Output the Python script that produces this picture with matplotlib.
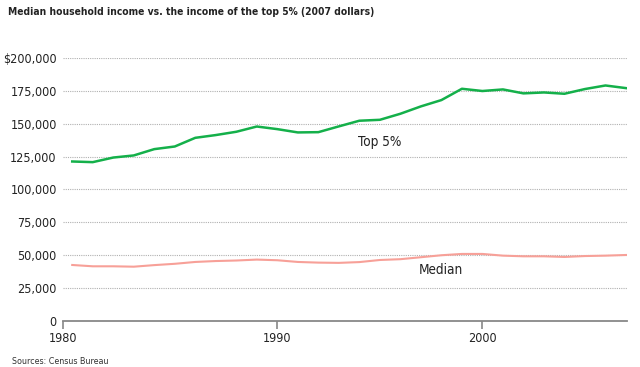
import os
import matplotlib
matplotlib.use("Agg")
import matplotlib.pyplot as plt
from matplotlib import font_manager as fm
from matplotlib.textpath import TextPath
from matplotlib.ticker import FuncFormatter

# ── Data (2007 dollars) ─────────────────────────────────────────────────────
years = list(range(1980, 2008))
top5 = [121300, 120800, 124300, 125900, 130700, 132700, 139300, 141400,
        143900, 147900, 145900, 143400, 143600, 148000, 152300, 153000,
        157600, 163200, 168000, 176600, 174900, 176100, 173100, 173800,
        172800, 176400, 179100, 177100]
median = [42600, 41600, 41600, 41300, 42500, 43500, 44900, 45600,
          46000, 46700, 46200, 44900, 44400, 44200, 44800, 46400,
          47000, 48500, 50000, 51000, 51000, 49700, 49200, 49200,
          48700, 49400, 49700, 50200]
y_ticks = [0, 25000, 50000, 75000, 100000, 125000, 150000, 175000, 200000]
x_labels = ["1980", "1990", "2000"]

# ── Fonts: prefer a condensed face, fall back to Liberation Sans ─────────────
def find_font(files, fallback_family, weight="normal"):
    for name in files:
        for f in fm.fontManager.ttflist:
            if os.path.basename(f.fname) == name:
                return fm.FontProperties(fname=f.fname)
    return fm.FontProperties(family=fallback_family, weight=weight)

FP_REG = find_font(["LiberationSansNarrow-Regular.ttf", "DejaVuSansCondensed.ttf",
                    "NotoSans-Condensed.ttf"], "Liberation Sans")
FP_BOLD = find_font(["LiberationSansNarrow-Bold.ttf", "DejaVuSansCondensed-Bold.ttf",
                     "NotoSans-CondensedBold.ttf"], "Liberation Sans", "bold")


def fit(text, fp, px):
    """font size (pt) that makes `text` about `px` pixels wide at 100 dpi"""
    w = TextPath((0, 0), text, size=10, prop=fp).get_extents().width
    return 10 * px / (w * 100 / 72)


def prop(fp, size):
    p = fp.copy()
    p.set_size(size)
    return p


C_TOP = "#14b04a"
C_MED = "#f7a098"
C_TXT = "#222222"

S_TICK = fit("$200,000", FP_REG, 52)
S_TITLE = fit("Median household income vs. the income of the top 5% (2007 dollars)", FP_BOLD, 365)
S_LAB = fit("Median", FP_REG, 42)
S_SRC = fit("Sources: Census Bureau", FP_REG, 96)

fig = plt.figure(figsize=(6.4, 3.67), dpi=100, facecolor="white")
ax = fig.add_axes([63 / 640, 46 / 367, 564 / 640, 263 / 367])

ax.plot(years, top5, color=C_TOP, lw=1.8, solid_joinstyle="round", zorder=3)
ax.plot(years, median, color=C_MED, lw=1.5, solid_joinstyle="round", zorder=3)

ax.set_xlim(1979.55, 2007.05)
ax.set_ylim(0, 200000)

# dotted grid
for v in y_ticks[1:]:
    ax.axhline(v, color="#b0b0b0", lw=0.8, ls=(0, (1, 1)), zorder=1)

for sp in ["top", "right", "left"]:
    ax.spines[sp].set_visible(False)
ax.spines["bottom"].set_color("#888888")
ax.spines["bottom"].set_linewidth(1.3)

ax.set_yticks(y_ticks)
ax.yaxis.set_major_formatter(FuncFormatter(
    lambda v, p: "$200,000" if v == 200000 else ("0" if v == 0 else f"{int(v):,}")))
ax.tick_params(axis="y", length=0, pad=4.5, labelcolor=C_TXT)
for t in ax.get_yticklabels():
    t.set_fontproperties(prop(FP_REG, S_TICK))

# the reference puts the "1980" tick at the left end of the axis
ax.set_xticks([1979.55, 1990, 2000])
ax.set_xticklabels(x_labels)
ax.tick_params(axis="x", length=6, width=1.2, color="#888888", pad=2, labelcolor=C_TXT)
for t in ax.get_xticklabels():
    t.set_fontproperties(prop(FP_REG, S_TICK))

ax.text(1993.95, 136500, "Top 5%", fontproperties=prop(FP_REG, S_LAB), color=C_TXT,
        ha="left", va="center")
ax.text(1996.9, 38500, "Median", fontproperties=prop(FP_REG, S_LAB), color=C_TXT,
        ha="left", va="center")

fig.text(8 / 640, 1 - 12 / 367, "Median household income vs. the income of the top 5% (2007 dollars)",
         fontproperties=prop(FP_BOLD, S_TITLE), color=C_TXT, ha="left", va="center")
fig.text(12 / 640, 1 - 361 / 367, "Sources: Census Bureau", fontproperties=prop(FP_REG, S_SRC),
         color="#333333", ha="left", va="center")

fig.savefig("out.png", dpi=100, facecolor="white")
